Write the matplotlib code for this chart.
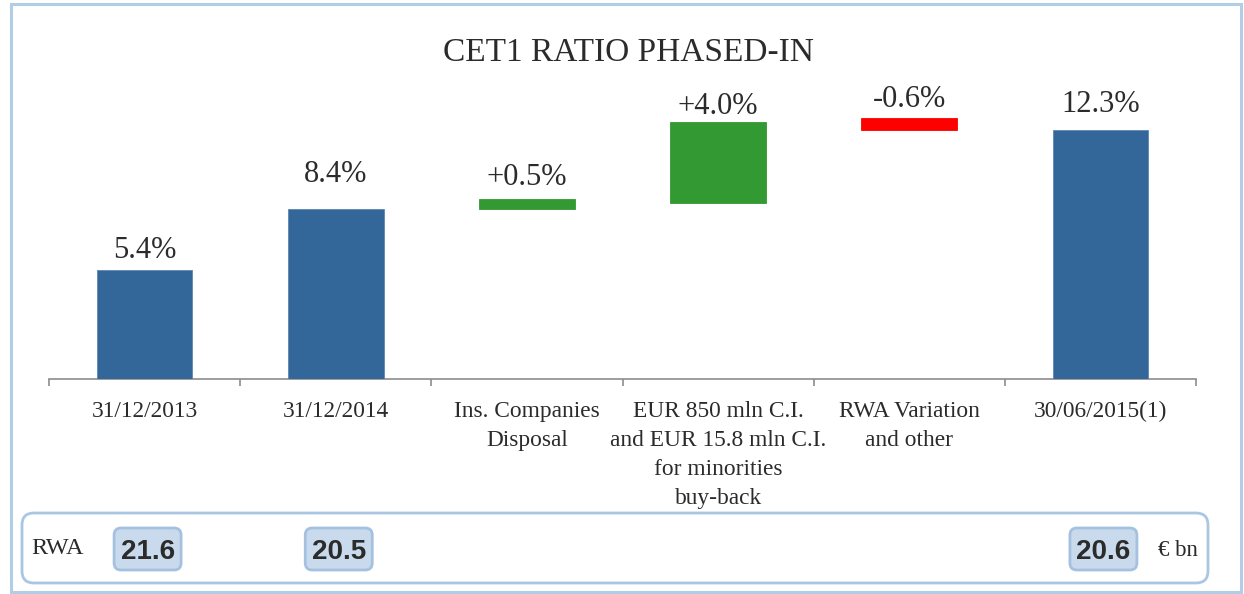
import matplotlib
matplotlib.use("Agg")
import matplotlib.pyplot as plt
from matplotlib.patches import FancyBboxPatch
from matplotlib.transforms import IdentityTransform

# ---------------- data ----------------
categories = ["31/12/2013", "31/12/2014", "Ins. Companies\nDisposal",
              "EUR 850 mln C.I.\nand EUR 15.8 mln C.I.\nfor minorities\nbuy-back",
              "RWA Variation\nand other", "30/06/2015(1)"]
values = [5.4, 8.4, 0.5, 4.0, -0.6, 12.3]
starts = [0.0, 0.0, 8.4, 8.7, 12.9, 0.0]
value_labels = ["5.4%", "8.4%", "+0.5%", "+4.0%", "-0.6%", "12.3%"]
kinds = ["total", "total", "up", "up", "down", "total"]
rwa_index = [0, 1, 5]
rwa_values = ["21.6", "20.5", "20.6"]
title = "CET1 RATIO PHASED-IN"

# ---------------- style ----------------
W, H, DPI = 1244, 594, 100
colors = {"total": "#336699", "up": "#339933", "down": "#FF0000"}
label_gap_px = [12, 27, 14, 8, 11, 18]
text_color = "#2b2b2b"
serif = ["Liberation Serif", "DejaVu Serif"]

fig = plt.figure(figsize=(W / DPI, H / DPI), dpi=DPI)
fig.patch.set_facecolor("white")

def px(x, y_top):
    """pixel (from top-left) -> display coords"""
    return x, H - y_top

# outer frame
fig.add_artist(FancyBboxPatch(px(11, 592), 1230, 588, boxstyle="square,pad=0",
                              transform=IdentityTransform(), facecolor="none",
                              edgecolor="#B4CDE6", linewidth=2.2))

ax_left, ax_right, ax_bottom, ax_top = 49, 1196, 379, 80
ax = fig.add_axes([ax_left / W, (H - ax_bottom) / H,
                   (ax_right - ax_left) / W, (ax_bottom - ax_top) / H])
px_per_pct = 20.24
ax.set_xlim(-0.5, len(categories) - 0.5)
ax.set_ylim(0, (ax_bottom - ax_top) / px_per_pct)
ax.set_facecolor("none")

xs = list(range(len(categories)))
bar_colors = [colors[k] for k in kinds]
ax.bar(xs, values, bottom=starts, width=0.5, color=bar_colors,
       edgecolor=[c if k != "total" else "#5B86B5" for c, k in zip(bar_colors, kinds)],
       linewidth=0.6, zorder=3)

for i, (v, s, lab) in enumerate(zip(values, starts, value_labels)):
    top = max(s, s + v)
    ax.annotate(lab, xy=(i, top), xytext=(0, label_gap_px[i] * 72 / DPI),
                textcoords="offset points", ha="center", va="baseline",
                fontsize=22, family=serif, color=text_color)

for sp in ["top", "left", "right"]:
    ax.spines[sp].set_visible(False)
ax.spines["bottom"].set_color("#8c8c8c")
ax.spines["bottom"].set_linewidth(1.2)
ax.set_yticks([])
ax.set_xticks([i - 0.5 for i in range(len(categories) + 1)])
ax.set_xticklabels([])
ax.tick_params(axis="x", which="major", direction="out", length=5,
               width=1.2, color="#8c8c8c")
ax.set_xticks(xs, categories, minor=True)
ax.tick_params(axis="x", which="minor", length=0, pad=16.0)
for t in ax.get_xticklabels(minor=True):
    t.set_family(serif)
    t.set_fontsize(16.8)
    t.set_color(text_color)
    t.set_linespacing(1.5)
    t.set_va("top")

fig.text(628 / W, 1 - 61 / H, title, ha="center", va="baseline",
         fontsize=24, family=serif, color=text_color)

# RWA panel
fig.add_artist(FancyBboxPatch(px(22, 583), 1186, 70,
                              boxstyle="round,pad=0,rounding_size=12",
                              transform=IdentityTransform(), facecolor="white",
                              edgecolor="#A9C6E3", linewidth=2.0))
fig.text(31 / W, 1 - 549 / H, "RWA", ha="left", va="center",
         fontsize=17.5, family=serif, color=text_color)
fig.text(1158 / W, 1 - 551 / H, "€ bn", ha="left", va="center",
         fontsize=16.5, family=serif, color=text_color)

fig.canvas.draw()
bw, bh = 67, 42
for idx, val in zip(rwa_index, rwa_values):
    cx, _ = ax.transData.transform((idx, 0))
    cx += 3
    cy = H - 549
    fig.add_artist(FancyBboxPatch((cx - bw / 2, cy - bh / 2), bw, bh,
                                  boxstyle="round,pad=0,rounding_size=7",
                                  transform=IdentityTransform(),
                                  facecolor="#C8DAEC", edgecolor="#A4C2E0",
                                  linewidth=2.0))
    fig.text(cx / W, cy / H, val, ha="center", va="center_baseline",
             fontsize=20, fontweight="bold", family=["Liberation Sans", "DejaVu Sans"],
             color=text_color)

fig.savefig("out.png", dpi=DPI, facecolor="white")
